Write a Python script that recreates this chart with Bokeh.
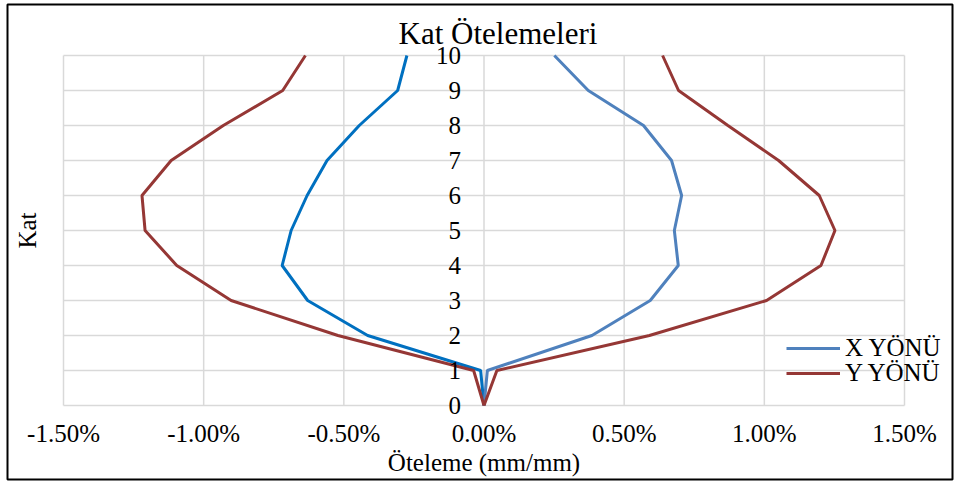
import math
from bokeh.plotting import figure
from bokeh.models import Legend, LegendItem
from bokeh.core.properties import value
from bokeh.embed import file_html
from bokeh.resources import INLINE

# ---- data (drift in %) ----
floors = [0, 1, 2, 3, 4, 5, 6, 7, 8, 9, 10]
floor_labels = [str(f) for f in floors]
x_neg = [0.0, -0.012, -0.415, -0.629, -0.720, -0.688, -0.631, -0.560, -0.445, -0.308, -0.275]
x_pos = [0.0, 0.012, 0.385, 0.593, 0.693, 0.679, 0.705, 0.669, 0.569, 0.372, 0.251]
y_neg = [0.0, -0.037, -0.521, -0.902, -1.096, -1.209, -1.220, -1.116, -0.930, -0.718, -0.637]
y_pos = [0.0, 0.046, 0.590, 1.008, 1.202, 1.252, 1.196, 1.051, 0.870, 0.694, 0.637]
x_ticks = [-1.5, -1.0, -0.5, 0.0, 0.5, 1.0, 1.5]
x_tick_labels = ["-1.50%", "-1.00%", "-0.50%", "0.00%", "0.50%", "1.00%", "1.50%"]
title_text = "Kat Ötelemeleri"
x_title = "Öteleme (mm/mm)"
y_title = "Kat"
series_names = ["X YÖNÜ", "Y YÖNÜ"]

FONT_NAME = "Liberation Serif"
FONT = value(FONT_NAME)
C_XN = "#0070C0"
C_XP = "#4F81BD"
C_Y = "#953735"
GRID = "#D9D9D9"

W, H = 955, 482
# pixel layout of the plotting region inside the canvas
PX_L, PX_R = 63.0, 904.0      # x = -1.5 .. 1.5
PY_T, PY_B = 55.0, 405.0      # y = 10 .. 0
BOX = (7.0, 952.0, 4.0, 479.0)  # chart border (left, right, top, bottom) px
sx = (PX_R - PX_L) / (x_ticks[-1] - x_ticks[0])
sy = (PY_B - PY_T) / (floors[-1] - floors[0])
xr = (x_ticks[0] - PX_L / sx, x_ticks[-1] + (W - PX_R) / sx)
yr = (floors[0] - (H - PY_B) / sy, floors[-1] + PY_T / sy)


def px2x(px):
    return xr[0] + px / sx


def py2y(py):
    return yr[1] - py / sy


p = figure(width=W, height=H, x_range=xr, y_range=yr,
           output_backend="svg", toolbar_location=None,
           min_border=0, x_axis_type=None, y_axis_type=None)
p.xgrid.visible = False
p.ygrid.visible = False
p.outline_line_color = None
p.background_fill_color = "white"
p.border_fill_color = "white"

# chart border
p.quad(left=[px2x(BOX[0])], right=[px2x(BOX[1])], top=[py2y(BOX[2])],
       bottom=[py2y(BOX[3])], fill_color=None, line_color="black", line_width=2)

# grid lines
p.segment(x0=x_ticks, y0=[floors[0]] * len(x_ticks), x1=x_ticks,
          y1=[floors[-1]] * len(x_ticks), line_color=GRID, line_width=1.5)
p.segment(x0=[x_ticks[0]] * len(floors), y0=floors, x1=[x_ticks[-1]] * len(floors),
          y1=floors, line_color=GRID, line_width=1.5)

# lines
r_xn = p.line(x_neg, floors, line_color=C_XN, line_width=3)
r_xp = p.line(x_pos, floors, line_color=C_XP, line_width=3)
r_yn = p.line(y_neg, floors, line_color=C_Y, line_width=3)
r_yp = p.line(y_pos, floors, line_color=C_Y, line_width=3)

# y tick labels along the zero line
p.text(x=[0.0] * len(floors), y=floors, text=floor_labels, x_offset=-23,
       text_align="right", text_baseline="middle", text_font=FONT,
       text_font_size="25px", text_color="black")
# x tick labels
p.text(x=x_ticks, y=[floors[0]] * len(x_ticks), text=x_tick_labels, y_offset=28,
       text_align="center", text_baseline="middle", text_font=FONT,
       text_font_size="25px", text_color="black")
# axis titles
p.text(x=[0.0], y=[floors[0]], text=[x_title], y_offset=57,
       text_align="center", text_baseline="middle", text_font=FONT,
       text_font_size="25px", text_color="black")
p.text(x=[x_ticks[0]], y=[(floors[0] + floors[-1]) / 2], text=[y_title],
       x_offset=-36, angle=math.pi / 2,
       text_align="center", text_baseline="middle", text_font=FONT,
       text_font_size="25px", text_color="black")
# chart title
p.text(x=[0.05], y=[floors[-1]], text=[title_text], y_offset=-22,
       text_align="center", text_baseline="middle", text_font=FONT,
       text_font_size="31px", text_color="black")


def make_legend(label, rend, loc):
    lg = Legend(items=[LegendItem(label=label, renderers=[rend])], location=loc)
    lg.label_text_font = FONT_NAME
    lg.label_text_font_size = "25px"
    lg.label_text_color = "black"
    lg.glyph_width = 54
    lg.glyph_height = 20
    lg.label_height = 20
    lg.label_standoff = 5
    lg.padding = 0
    lg.margin = 0
    lg.border_line_color = None
    lg.background_fill_alpha = 0
    return lg


p.add_layout(make_legend(series_names[0], r_xp, (786, 120)))
p.add_layout(make_legend(series_names[1], r_yp, (786, 95)))

open("out.html", "w").write(file_html(p, INLINE))
